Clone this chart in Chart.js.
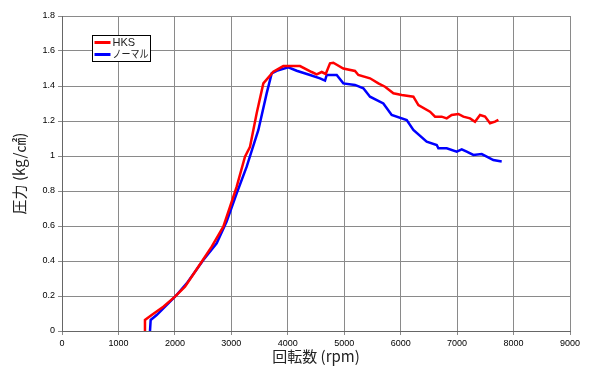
<!DOCTYPE html>
<html>
<head>
<meta charset="utf-8">
<title>回転数と圧力</title>
<script src="https://cdn.jsdelivr.net/npm/chart.js@4/dist/chart.umd.min.js"></script>
<style>
  html, body { margin: 0; padding: 0; background: #fff; }
  #wrap { width: 600px; height: 373px; }
</style>
</head>
<body>
<div id="wrap"><canvas id="myChart"></canvas></div>
<script>
// values
var hksRpm = [1453, 1470, 1589, 1795, 2002, 2179, 2475, 2652, 2858, 2977, 3095, 3242, 3331, 3449, 3567, 3744, 3921, 4217, 4424, 4512, 4601, 4672, 4748, 4807, 4984, 5191, 5250, 5457, 5605, 5723, 5871, 6019, 6225, 6314, 6520, 6609, 6727, 6816, 6904, 7022, 7111, 7229, 7317, 7406, 7495, 7583, 7672, 7731];
var hksP   = [0.0, 0.063, 0.091, 0.139, 0.196, 0.253, 0.396, 0.482, 0.596, 0.71, 0.825, 0.996, 1.053, 1.244, 1.415, 1.482, 1.514, 1.514, 1.48, 1.467, 1.48, 1.469, 1.53, 1.533, 1.5, 1.486, 1.463, 1.444, 1.415, 1.396, 1.358, 1.349, 1.339, 1.291, 1.253, 1.225, 1.225, 1.215, 1.234, 1.24, 1.225, 1.215, 1.196, 1.234, 1.225, 1.187, 1.196, 1.206];

var normalRpm = [1559, 1571, 1677, 2002, 2209, 2504, 2740, 2917, 3095, 3272, 3479, 3626, 3715, 3803, 4009, 4158, 4394, 4571, 4660, 4690, 4867, 4984, 5191, 5339, 5457, 5693, 5841, 6107, 6225, 6461, 6639, 6668, 6816, 6993, 7082, 7170, 7288, 7436, 7525, 7642, 7790];
var normalP   = [0.0, 0.063, 0.091, 0.196, 0.272, 0.406, 0.501, 0.625, 0.787, 0.939, 1.149, 1.358, 1.472, 1.487, 1.507, 1.487, 1.463, 1.444, 1.431, 1.463, 1.463, 1.415, 1.406, 1.387, 1.339, 1.3, 1.234, 1.206, 1.149, 1.082, 1.063, 1.044, 1.044, 1.025, 1.038, 1.025, 1.006, 1.011, 0.996, 0.977, 0.968];

var seriesNames = ['HKS', 'ノーマル'];
var seriesColors = ['#ff0000', '#0000ff'];

function toPoints(xs, ys) {
    var pts = [];
    for (var i = 0; i < xs.length; i++) pts.push({x: xs[i], y: ys[i]});
    return pts;
}

// legend box drawn inside the plot, top-left
var boxLegend = {
    id: 'boxLegend',
    afterDraw: function (chart) {
        var ctx = chart.ctx;
        var x0 = 92.5, y0 = 35.5, w = 58, h = 26;
        ctx.save();
        ctx.fillStyle = '#fff';
        ctx.fillRect(x0, y0, w, h);
        ctx.strokeStyle = '#000';
        ctx.lineWidth = 1;
        ctx.strokeRect(x0, y0, w, h);
        ctx.font = '11px "Liberation Sans", "Noto Sans CJK JP", sans-serif';
        ctx.textBaseline = 'middle';
        chart.data.datasets.forEach(function (ds, i) {
            var ly = y0 + 7 + i * 12;
            ctx.strokeStyle = ds.borderColor;
            ctx.lineWidth = 3;
            ctx.beginPath();
            ctx.moveTo(x0 + 2, ly);
            ctx.lineTo(x0 + 18, ly);
            ctx.stroke();
            ctx.fillStyle = '#222';
            ctx.fillText(ds.label, x0 + 20, ly, 36);
        });
        ctx.restore();
    }
};

var chartTarget = document.getElementById('myChart');
var lineChart = new Chart(chartTarget, {
    type: 'line',
    data: {
        datasets: [
            {
                label: seriesNames[0],
                data: toPoints(hksRpm, hksP),
                borderColor: seriesColors[0],
                backgroundColor: seriesColors[0],
                borderWidth: 2.5,
                pointRadius: 0,
                tension: 0
            },
            {
                label: seriesNames[1],
                data: toPoints(normalRpm, normalP),
                borderColor: seriesColors[1],
                backgroundColor: seriesColors[1],
                borderWidth: 2.5,
                pointRadius: 0,
                tension: 0
            }
        ]
    },
    options: {
        responsive: true,
        maintainAspectRatio: false,
        animation: false,
        layout: { padding: { top: 16, right: 30, bottom: 0, left: 0 } },
        plugins: {
            legend: { display: false },
            tooltip: { enabled: false }
        },
        scales: {
            x: {
                type: 'linear',
                min: 0,
                max: 9000,
                ticks: {
                    stepSize: 1000,
                    color: '#000',
                    padding: 3,
                    maxRotation: 0,
                    font: { family: '"Liberation Sans", sans-serif', size: 9 },
                    callback: function (v) { return String(v); }
                },
                grid: { color: '#8a8a8a', tickLength: 4 },
                border: { color: '#666' },
                title: {
                    display: true,
                    text: '回転数 (rpm)',
                    color: '#222',
                    padding: { top: 0, bottom: 8 },
                    font: { family: '"Noto Sans CJK JP", sans-serif', size: 15 }
                },
                afterFit: function (scale) { scale.height = 42; }
            },
            y: {
                min: 0,
                max: 1.8,
                ticks: {
                    stepSize: 0.2,
                    color: '#000',
                    padding: 3,
                    font: { family: '"Liberation Sans", sans-serif', size: 9 },
                    callback: function (v) { return String(Math.round(v * 10) / 10); }
                },
                grid: { color: '#8a8a8a', tickLength: 4 },
                border: { color: '#666' },
                title: {
                    display: true,
                    text: '圧力 (kg/㎠)',
                    color: '#222',
                    padding: { top: 10, bottom: 0 },
                    font: { family: '"Noto Sans CJK JP", sans-serif', size: 15 }
                },
                afterFit: function (scale) { scale.width = 62; }
            }
        }
    },
    plugins: [boxLegend]
});
</script>
</body>
</html>
